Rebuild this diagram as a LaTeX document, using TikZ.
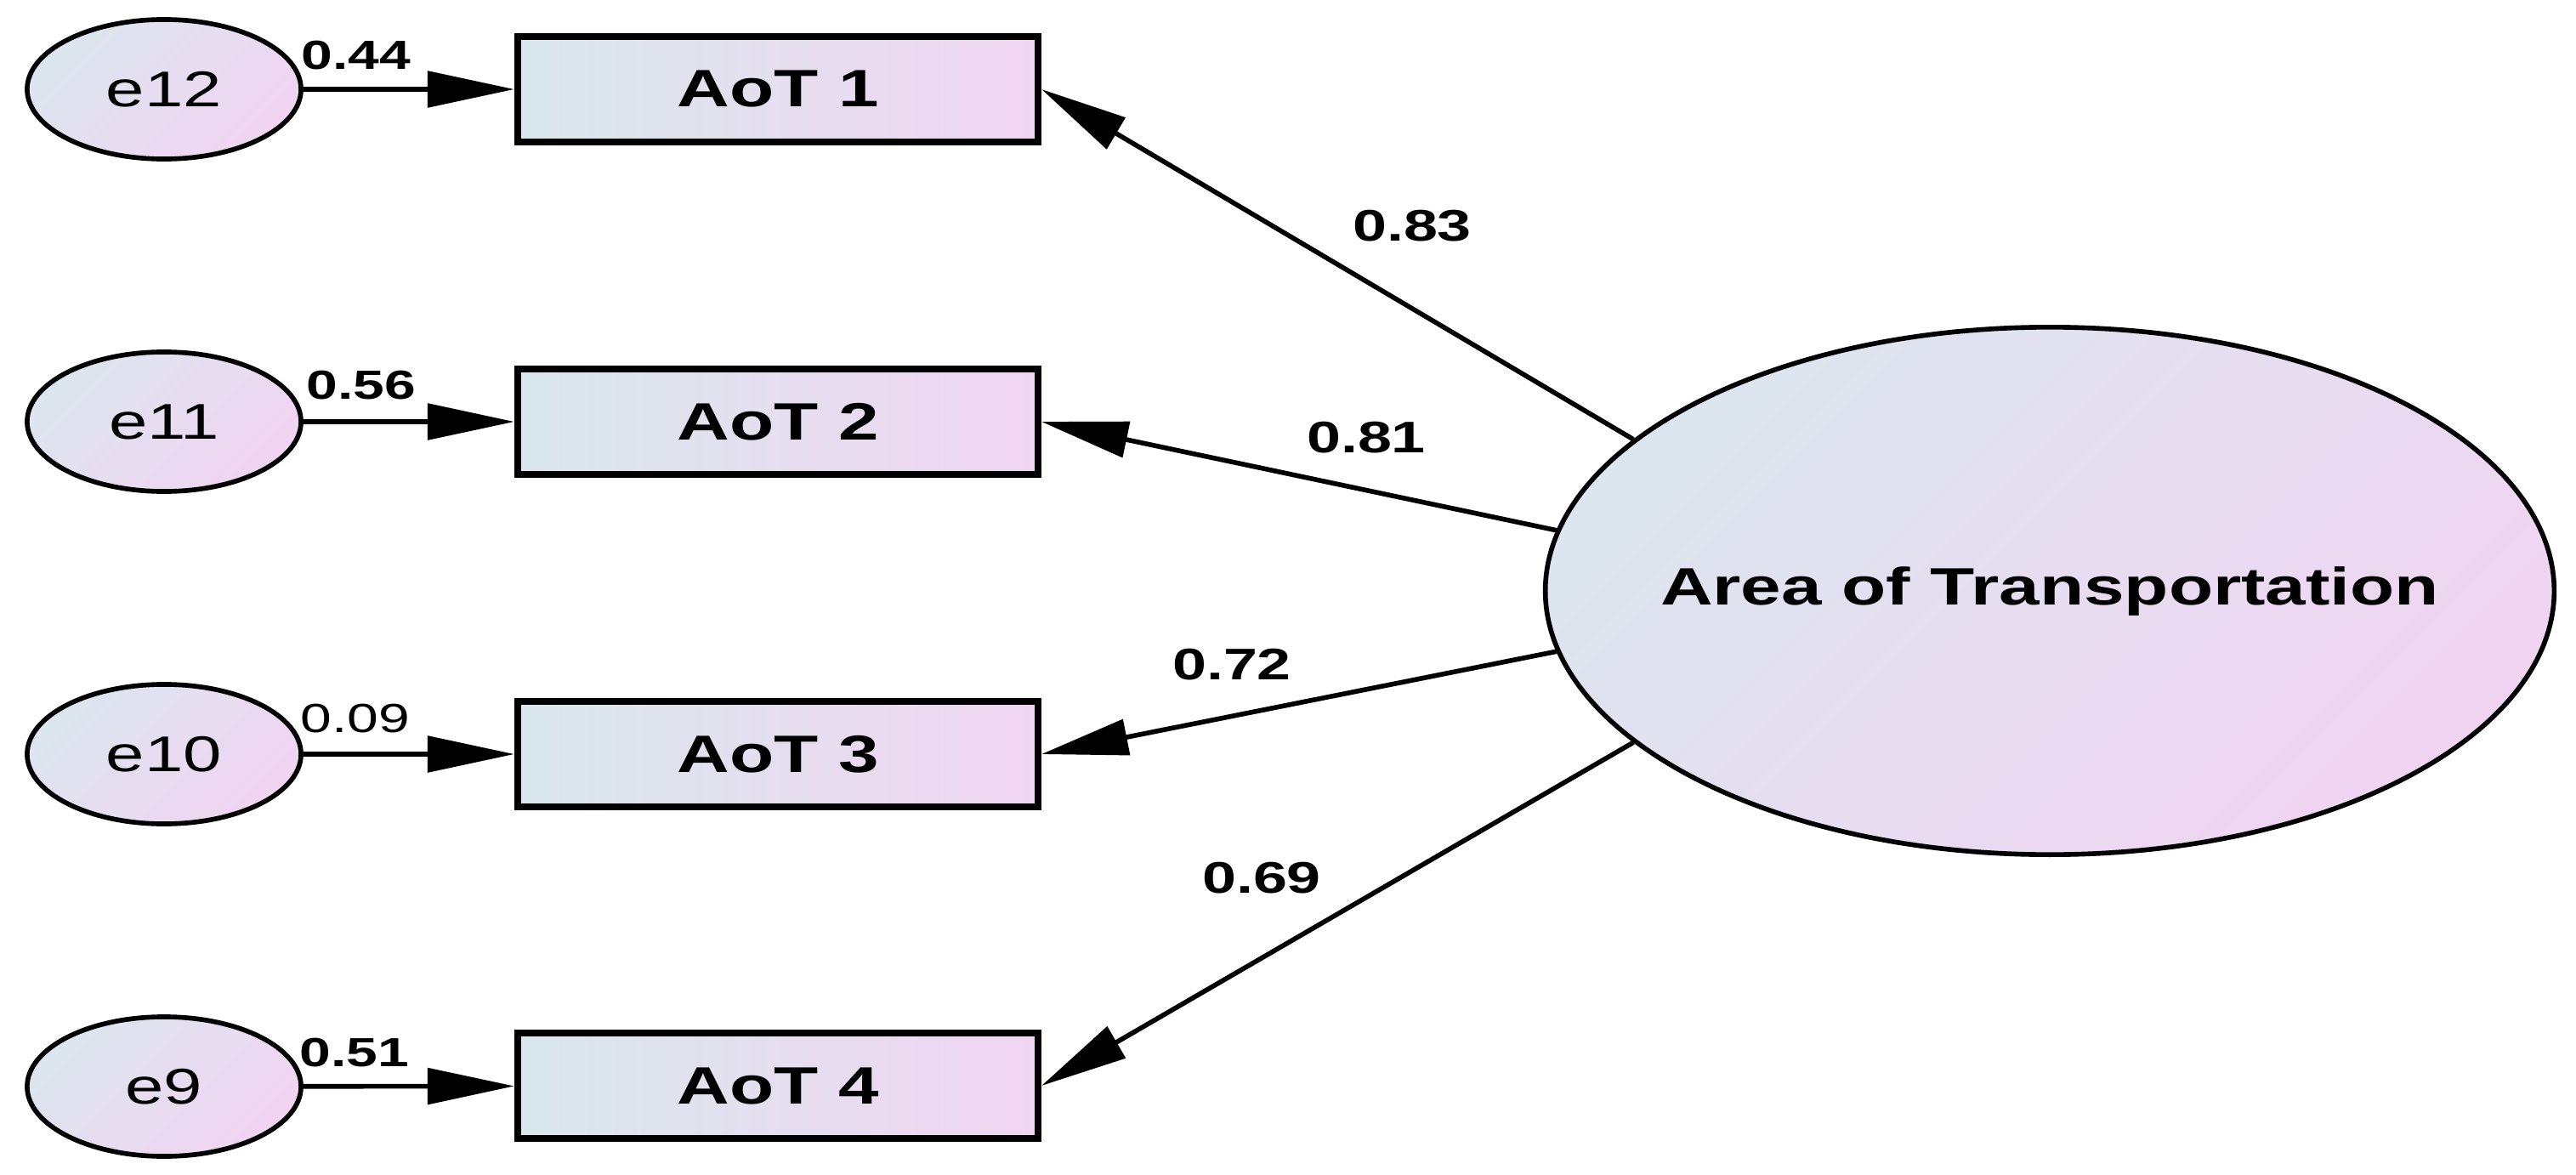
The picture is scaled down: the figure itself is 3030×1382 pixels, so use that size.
\documentclass[tikz,border=0pt]{standalone}
\usepackage{fontspec}
\newfontfamily\amos[FakeStretch=1.38]{Liberation Sans}
\usetikzlibrary{arrows.meta,shapes.geometric}
\definecolor{cA}{HTML}{D9E8EC}
\definecolor{cB}{HTML}{F1D5F2}
\definecolor{eA}{HTML}{DCE6EE}
\definecolor{eB}{HTML}{F1D4F2}
\tikzset{
  obs/.style={draw=black, line width=2.2pt, rectangle, minimum width=6.12cm, minimum height=1.24cm,
    left color=cA, right color=cB, inner sep=0pt,
    font=\amos\bfseries\fontsize{17.6}{20}\selectfont},
  err/.style={draw=black, line width=1.6pt, ellipse, minimum width=3.22cm, minimum height=1.64cm,
    left color=eA, right color=eB, shading angle=45, inner sep=0pt,
    font=\amos\fontsize{16.8}{19}\selectfont},
  lat/.style={draw=black, line width=1.6pt, ellipse, minimum width=11.86cm, minimum height=6.2cm,
    left color=eA, right color=eB, shading angle=45, inner xsep=-0.6cm, inner ysep=0pt,
    font=\amos\bfseries\fontsize{17.6}{20}\selectfont},
  arr/.style={draw=black, line width=1.6pt, -{Triangle[length=1.02cm,width=0.42cm]}},
  lod/.style={inner sep=0pt, font=\amos\bfseries\fontsize{14.8}{17}\selectfont},
  elb/.style={inner sep=0pt, font=\amos\bfseries\fontsize{13.6}{15}\selectfont},
  elr/.style={inner sep=0pt, font=\amos\fontsize{13.6}{15}\selectfont},
}
\begin{document}
\begin{tikzpicture}[x=0.01cm, y=-0.01cm]
\useasboundingbox (0,0) rectangle (3030,1382);
\fill[white] (0,0) rectangle (3030,1382);

\node[lat] (big) at (2411,695) {Area of Transportation};

\node[obs] (a1) at (915,105) {AoT 1};
\node[obs] (a2) at (915,496) {AoT 2};
\node[obs] (a3) at (915,887) {AoT 3};
\node[obs] (a4) at (915,1277) {AoT 4};

\node[err] (e12) at (193,105) {e12};
\node[err] (e11) at (193,496) {e11};
\node[err] (e10) at (193,887) {e10};
\node[err] (e9)  at (193,1278) {e9};

\draw[arr] (e12) -- (a1);
\draw[arr] (e11) -- (a2);
\draw[arr] (e10) -- (a3);
\draw[arr] (e9) -- (a4);

\draw[arr] (big.160) -- (a1.east);
\draw[arr] (big.173) -- (a2.east);
\draw[arr] (big.187) -- (a3.east);
\draw[arr] (big.200) -- (a4.east);

\node[elb] (l44) at (419,65) {0.44};
\node[elb] (l56) at (425,453) {0.56};
\node[elr] (l09) at (418,845) {0.09};
\node[elb] (l51) at (417,1238) {0.51};

\node[lod] (l83) at (1661,266) {0.83};
\node[lod] (l81) at (1607,515) {0.81};
\node[lod] (l72) at (1449,782) {0.72};
\node[lod] (l69) at (1484,1033) {0.69};
\end{tikzpicture}
\end{document}
